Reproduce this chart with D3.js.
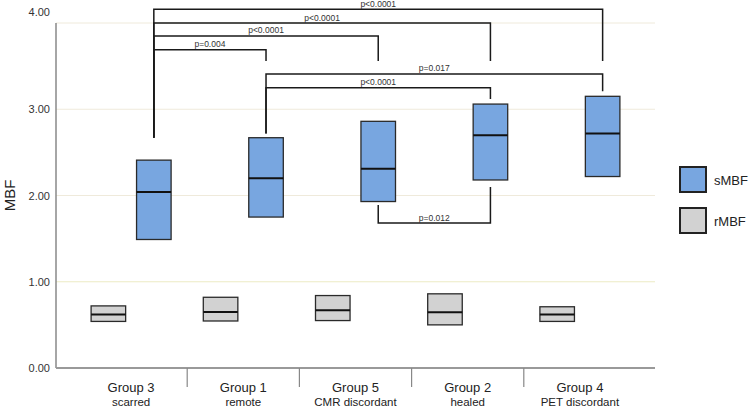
<!DOCTYPE html>
<html>
<head>
<meta charset="utf-8">
<script src="https://cdn.jsdelivr.net/npm/d3@7"></script>
<style>
  body { margin: 0; background: #fff; }
  text { font-family: "Liberation Sans", Arial, sans-serif; }
</style>
</head>
<body>
<div class="vis-boxchart"></div>
<script>
// groups in display order
const groups = ['Group 3', 'Group 1', 'Group 5', 'Group 2', 'Group 4'];
const subLabels = ['scarred', 'remote', 'CMR discordant', 'healed', 'PET discordant'];
const series = ['rMBF', 'sMBF'];

// box bounds (lower quartile, median, upper quartile)
const sLow  = [1.49, 1.75, 1.93, 2.18, 2.22];
const sMed  = [2.04, 2.20, 2.31, 2.70, 2.72];
const sHigh = [2.41, 2.67, 2.86, 3.06, 3.15];
const rLow  = [0.54, 0.545, 0.55, 0.50, 0.54];
const rMed  = [0.62, 0.65, 0.67, 0.645, 0.62];
const rHigh = [0.72, 0.82, 0.84, 0.86, 0.71];

const yTicks = [0, 1, 2, 3, 4];

// significance brackets (indices into groups, drawn between sMBF boxes)
const bracketFrom    = [0, 0, 0, 0, 1, 1, 2];
const bracketTo      = [4, 3, 2, 1, 4, 3, 3];
const bracketLevel   = [4.16, 4.0, 3.85, 3.69, 3.41, 3.25, 1.68];
const bracketFromEnd = [2.67, 2.67, 2.67, 2.67, 2.72, 2.72, 1.89];
const bracketToEnd   = [3.56, 3.56, 3.56, 3.56, 3.21, 3.12, 2.10];
const bracketLabel   = ['p<0.0001', 'p<0.0001', 'p<0.0001', 'p=0.004', 'p=0.017', 'p<0.0001', 'p=0.012'];

const W = 749, H = 408;
const plotLeft = 56, plotRight = 655, plotTop = 23, plotBottom = 368;

const svg = d3.select('.vis-boxchart').append('svg')
    .attr('width', W)
    .attr('height', H);

const y = d3.scaleLinear().domain([0, 4]).range([plotBottom, plotTop]);
const x = d3.scaleBand().domain(groups).range([75, 636]);
const x1 = d3.scaleBand().domain(series).range([-40, 40]).paddingInner(0.24);

const color = { sMBF: '#78a6e0', rMBF: '#d2d2d2' };

// gridlines
svg.append('g').selectAll('line')
    .data(yTicks.slice(1))
    .enter().append('line')
    .attr('x1', plotLeft).attr('x2', plotRight)
    .attr('y1', d => y(d)).attr('y2', d => y(d))
    .attr('stroke', d => d === 1 ? '#ecebc4' : '#efeadb')
    .attr('stroke-width', 1);

// y axis
const yAxis = svg.append('g')
    .attr('transform', 'translate(' + (plotLeft - 3) + ',0)')
    .call(d3.axisLeft(y).tickValues(yTicks).tickFormat(d3.format('.2f')).tickSize(0));
yAxis.select('.domain').remove();
yAxis.selectAll('text')
    .attr('font-size', 11)
    .attr('fill', '#333')
    .attr('font-family', '"Liberation Sans", Arial, sans-serif')
    .attr('dy', d => d === 4 ? '-0.65em' : '0.32em');

svg.append('line')
    .attr('x1', plotLeft).attr('x2', plotLeft)
    .attr('y1', y(4)).attr('y2', y(0))
    .attr('stroke', '#888').attr('stroke-width', 1.5);

svg.append('text')
    .attr('transform', 'translate(15,' + y(2) + ') rotate(-90)')
    .attr('text-anchor', 'middle')
    .attr('font-size', 15)
    .attr('fill', '#222')
    .text('MBF');

// x axis
svg.append('line')
    .attr('x1', plotLeft).attr('x2', plotRight)
    .attr('y1', plotBottom).attr('y2', plotBottom)
    .attr('stroke', '#999').attr('stroke-width', 2);

svg.append('g').selectAll('line')
    .data(groups.slice(1))
    .enter().append('line')
    .attr('x1', d => x(d)).attr('x2', d => x(d))
    .attr('y1', plotBottom).attr('y2', plotBottom + 19)
    .attr('stroke', '#888').attr('stroke-width', 1.2);

const labelX = d => {
    const a = Math.max(plotLeft, x(d));
    const b = Math.min(plotRight, x(d) + x.bandwidth());
    return (a + b) / 2;
};
svg.append('g').selectAll('text')
    .data(groups)
    .enter().append('text')
    .attr('x', labelX).attr('y', 392)
    .attr('text-anchor', 'middle')
    .attr('font-size', 13)
    .attr('fill', '#222')
    .text(d => d);
svg.append('g').selectAll('text')
    .data(groups)
    .enter().append('text')
    .attr('x', labelX).attr('y', 406)
    .attr('text-anchor', 'middle')
    .attr('font-size', 11.5)
    .attr('fill', '#222')
    .text((d, i) => subLabels[i]);

// boxes
const boxData = [];
groups.forEach((g, i) => {
    boxData.push({ g: g, s: 'rMBF', lo: rLow[i], med: rMed[i], hi: rHigh[i] });
    boxData.push({ g: g, s: 'sMBF', lo: sLow[i], med: sMed[i], hi: sHigh[i] });
});

const boxes = svg.append('g').selectAll('.box')
    .data(boxData)
    .enter().append('g')
    .attr('class', 'box')
    .attr('transform', d => 'translate(' + (x(d.g) + x.bandwidth() / 2 + x1(d.s)) + ',0)');
boxes.append('rect')
    .attr('x', 0)
    .attr('width', x1.bandwidth())
    .attr('y', d => y(d.hi))
    .attr('height', d => y(d.lo) - y(d.hi))
    .attr('fill', d => color[d.s])
    .attr('stroke', '#2a2a2a')
    .attr('stroke-width', 1.3);
boxes.append('line')
    .attr('x1', 0).attr('x2', x1.bandwidth())
    .attr('y1', d => y(d.med)).attr('y2', d => y(d.med))
    .attr('stroke', '#111')
    .attr('stroke-width', 2);

// brackets
const sx = i => x(groups[i]) + x.bandwidth() / 2 + x1('sMBF') + x1.bandwidth() / 2;
const bracketG = svg.append('g');
bracketFrom.forEach((f, i) => {
    const t = bracketTo[i];
    const lvl = y(bracketLevel[i]);
    const path = d3.path();
    path.moveTo(sx(f), y(bracketFromEnd[i]));
    path.lineTo(sx(f), lvl);
    path.lineTo(sx(t), lvl);
    path.lineTo(sx(t), y(bracketToEnd[i]));
    bracketG.append('path')
        .attr('d', path.toString())
        .attr('fill', 'none')
        .attr('stroke', '#1a1a1a')
        .attr('stroke-width', 1.5);
    bracketG.append('text')
        .attr('x', (sx(f) + sx(t)) / 2)
        .attr('y', lvl - 2.5)
        .attr('text-anchor', 'middle')
        .attr('font-size', 8.5)
        .attr('fill', '#333')
        .text(bracketLabel[i]);
});

// legend
const legend = svg.append('g').selectAll('.legend')
    .data(['sMBF', 'rMBF'])
    .enter().append('g')
    .attr('class', 'legend')
    .attr('transform', (d, i) => 'translate(680,' + (167 + i * 41) + ')');
legend.append('rect')
    .attr('width', 26).attr('height', 25)
    .attr('fill', d => color[d])
    .attr('stroke', '#222')
    .attr('stroke-width', 2);
legend.append('text')
    .attr('x', 34).attr('y', 18)
    .attr('font-size', 13)
    .attr('fill', '#222')
    .text(d => d);
</script>
</body>
</html>
